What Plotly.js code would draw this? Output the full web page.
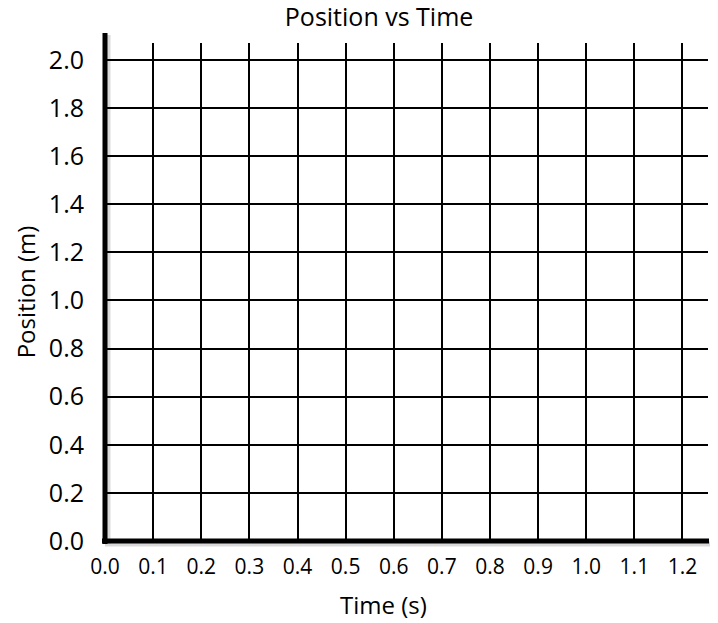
<!DOCTYPE html>
<html>
<head>
<meta charset="utf-8">
<script src="https://cdn.plot.ly/plotly-3.0.1.min.js"></script>
<style>html,body{margin:0;padding:0;background:#fff;}#chart{width:718px;height:623px;}</style>
</head>
<body>
<div id="chart"></div>
<script>
// Empty position-vs-time grid: no plotted data points
var timeValues = [];
var positionValues = [];
var xTickVals = [0.0, 0.1, 0.2, 0.3, 0.4, 0.5, 0.6, 0.7, 0.8, 0.9, 1.0, 1.1, 1.2];
var xTickText = ["0.0", "0.1", "0.2", "0.3", "0.4", "0.5", "0.6", "0.7", "0.8", "0.9", "1.0", "1.1", "1.2"];
var yTickVals = [0.0, 0.2, 0.4, 0.6, 0.8, 1.0, 1.2, 1.4, 1.6, 1.8, 2.0];
var yTickText = ["0.0", "0.2", "0.4", "0.6", "0.8", "1.0", "1.2", "1.4", "1.6", "1.8", "2.0"];
var xRange = [0, 1.253];
var yRange = [0, 2.07];
var xTitle = "Time (s)";
var yTitle = "Position (m)";
var chartTitle = "Position vs Time";

var FONT = "Open Sans, Liberation Sans, sans-serif";

var trace = {
  x: timeValues,
  y: positionValues,
  type: "scatter",
  mode: "markers",
  marker: {color: "#000"},
  showlegend: false,
  hoverinfo: "skip"
};

var plotW = 718 - 105 - 10, plotH = 623 - 43 - 82;
var px = 1 / plotW, py = 1 / plotH;

var layout = {
  width: 718,
  height: 623,
  margin: {l: 105, r: 10, t: 43, b: 82, pad: 0},
  paper_bgcolor: "#fff",
  plot_bgcolor: "#fff",
  font: {family: FONT, color: "#000"},
  title: {
    text: chartTitle,
    font: {family: FONT, size: 25, color: "#000"},
    x: 0.528, xref: "container", xanchor: "center",
    y: 0.973, yref: "container", yanchor: "middle"
  },
  xaxis: {
    range: xRange,
    tickvals: xTickVals,
    ticktext: xTickText,
    tickfont: {family: FONT, size: 21, color: "#000"},
    ticklabelstandoff: 11,
    showgrid: true,
    gridcolor: "#000",
    gridwidth: 2,
    zeroline: false,
    showline: false,
    ticks: "",
    fixedrange: true
  },
  yaxis: {
    range: yRange,
    tickvals: yTickVals,
    ticktext: yTickText,
    tickfont: {family: FONT, size: 25, color: "#000"},
    ticklabelstandoff: 20,
    showgrid: true,
    gridcolor: "#000",
    gridwidth: 2,
    zeroline: false,
    showline: false,
    ticks: "",
    fixedrange: true,
    title: {text: yTitle, font: {family: FONT, size: 24, color: "#000"}, standoff: 6}
  },
  annotations: [
    {text: xTitle, xref: "paper", yref: "paper", x: (383 - 105) * px, y: -(604 - 541) * py,
      xanchor: "center", yanchor: "middle", showarrow: false,
      font: {family: FONT, size: 24, color: "#000"}}
  ],
  shapes: [
    // soft shadows of the axis lines
    {type: "line", xref: "paper", yref: "paper", x0: 0, x1: 1 + 2 * px, y0: -3 * py, y1: -3 * py,
      line: {color: "rgba(0,0,0,0.15)", width: 5}, layer: "above"},
    {type: "line", xref: "paper", yref: "paper", x0: 3 * px, x1: 3 * px, y0: -3 * py, y1: 1 + 8 * py,
      line: {color: "rgba(0,0,0,0.15)", width: 5}, layer: "above"},
    // x axis line
    {type: "line", xref: "paper", yref: "paper", x0: -3 * px, x1: 1 + 1 * px, y0: 0, y1: 0,
      line: {color: "#000", width: 5}, layer: "above"},
    // y axis line (extends above the plot area)
    {type: "line", xref: "paper", yref: "paper", x0: 0, x1: 0, y0: -3 * py, y1: 1 + 10 * py,
      line: {color: "#000", width: 5}, layer: "above"}
  ]
};

Plotly.newPlot("chart", [trace], layout, {displayModeBar: false, staticPlot: true});
</script>
</body>
</html>
